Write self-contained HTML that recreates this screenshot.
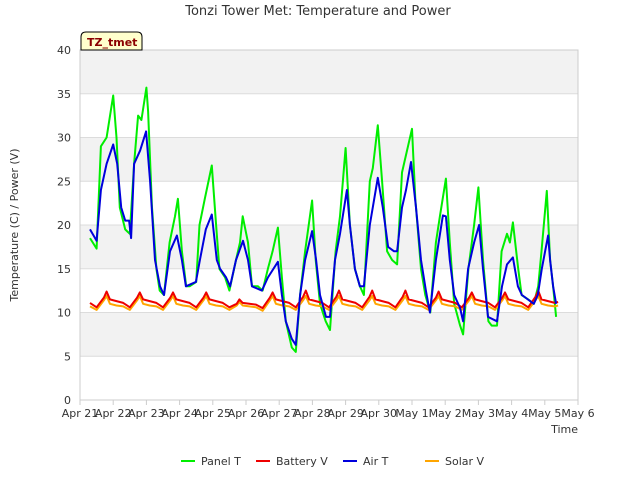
<!DOCTYPE html>
<html><head><meta charset="utf-8"><style>
body{margin:0;background:#fff;font-family:"Liberation Sans",sans-serif}
svg text{font-family:"DejaVu Sans","Liberation Sans",sans-serif}
</style></head><body>
<svg id="chart" width="640" height="480">
<g id="bands"></g><g id="grid"></g><g id="axes"></g><g id="series"></g>
<text x="318" y="15" text-anchor="middle" font-size="13" fill="#333">Tonzi Tower Met: Temperature and Power</text>
<text x="18" y="225" text-anchor="middle" font-size="11" fill="#333" transform="rotate(-90 18 225)">Temperature (C) / Power (V)</text>
<text x="578" y="433" text-anchor="end" font-size="11" fill="#333">Time</text>
<g>
<path d="M81,50 L81,37 Q81,32 86,32 L137,32 Q142,32 142,37 L142,50 Z" fill="#ffffcc" stroke="#000" stroke-width="1"/>
<text x="87" y="46" font-size="11" font-weight="bold" fill="#8b0000">TZ_tmet</text>
</g>
<g id="legend"></g>
</svg>
<script>
const NS="http://www.w3.org/2000/svg";
const xTicks=["Apr 21","Apr 22","Apr 23","Apr 24","Apr 25","Apr 26","Apr 27","Apr 28","Apr 29","Apr 30","May 1","May 2","May 3","May 4","May 5","May 6"];
const yTicks=[0,5,10,15,20,25,30,35,40];
const panelT=[[0.3,18.5],[0.5,17.3],[0.63,29],[0.8,30],[1.0,34.8],[1.1,30],[1.2,22],[1.36,19.5],[1.5,19],[1.63,27],[1.75,32.5],[1.85,32],[2.0,35.7],[2.05,33],[2.17,22],[2.3,15],[2.4,12.5],[2.53,12],[2.7,18],[2.86,21],[2.95,23],[3.07,17],[3.2,13],[3.3,13],[3.5,13.5],[3.6,20],[3.76,23],[3.97,26.8],[4.1,20],[4.2,15],[4.37,14],[4.5,12.5],[4.7,16],[4.82,18],[4.9,21],[5.06,18],[5.18,13],[5.36,13],[5.5,12.5],[5.66,15],[5.8,17],[5.96,19.7],[6.08,14],[6.2,9],[6.38,6],[6.5,5.5],[6.63,12],[6.78,17],[6.99,22.8],[7.1,16],[7.23,11],[7.4,9],[7.53,8],[7.7,17],[7.83,21],[8.0,28.8],[8.13,20],[8.28,15],[8.43,13],[8.55,12],[8.73,25],[8.82,26.5],[8.97,31.4],[9.1,25],[9.25,17],[9.4,16],[9.55,15.5],[9.7,26],[9.82,28],[10.0,31],[10.1,23],[10.27,15],[10.4,12],[10.55,10],[10.72,18],[10.84,21],[11.02,25.3],[11.14,18],[11.27,11],[11.45,8.5],[11.54,7.5],[11.7,15],[11.87,20],[12.0,24.3],[12.14,16],[12.3,9],[12.4,8.5],[12.56,8.5],[12.7,17],[12.86,19],[12.95,18],[13.04,20.3],[13.2,15],[13.3,12],[13.5,11.5],[13.67,11],[13.8,13],[13.9,17],[14.06,23.9],[14.16,16],[14.25,13],[14.34,9.5]];
const airT=[[0.3,19.5],[0.5,18.2],[0.63,24],[0.8,27],[1.0,29.2],[1.12,27],[1.24,22],[1.36,20.5],[1.48,20.5],[1.54,18.5],[1.63,27],[1.81,28.5],[1.99,30.7],[2.11,25],[2.26,16],[2.41,13],[2.53,12],[2.71,17],[2.92,18.8],[3.07,16],[3.19,13],[3.49,13.5],[3.61,16],[3.79,19.5],[3.97,21.2],[4.12,16],[4.22,15],[4.4,14],[4.52,13],[4.7,16],[4.91,18.2],[5.06,16],[5.18,13],[5.48,12.5],[5.66,14],[5.96,15.8],[6.08,12],[6.2,9],[6.38,7],[6.5,6.3],[6.63,12],[6.78,16],[6.99,19.3],[7.11,16],[7.23,12],[7.41,9.5],[7.53,9.5],[7.68,16],[7.83,19],[8.04,24],[8.13,20],[8.28,15],[8.43,13],[8.55,13],[8.73,20],[8.97,25.4],[9.12,22],[9.28,17.5],[9.46,17],[9.55,17],[9.7,22],[9.82,24],[9.97,27.2],[10.12,22],[10.27,16],[10.42,12.5],[10.54,10],[10.72,16],[10.93,21.1],[11.02,21],[11.14,16],[11.27,12],[11.45,10.5],[11.54,9],[11.69,15],[11.87,18],[12.02,20],[12.14,15],[12.29,9.5],[12.56,9],[12.71,13],[12.86,15.5],[13.04,16.3],[13.19,13],[13.31,12],[13.67,11],[13.79,12],[13.91,15],[14.1,18.8],[14.16,16],[14.25,13],[14.34,11]];
const batteryV=[[0.3,11.1],[0.5,10.6],[0.72,11.7],[0.8,12.4],[0.9,11.5],[1.1,11.3],[1.3,11.1],[1.5,10.6],[1.72,11.7],[1.8,12.3],[1.9,11.5],[2.1,11.3],[2.3,11.1],[2.5,10.6],[2.72,11.7],[2.8,12.3],[2.9,11.5],[3.1,11.3],[3.3,11.1],[3.5,10.6],[3.72,11.7],[3.8,12.3],[3.9,11.5],[4.1,11.3],[4.3,11.1],[4.5,10.6],[4.72,11.0],[4.8,11.5],[4.9,11.1],[5.1,11.0],[5.3,10.9],[5.5,10.5],[5.72,11.7],[5.8,12.3],[5.9,11.5],[6.1,11.3],[6.3,11.1],[6.5,10.6],[6.72,11.8],[6.8,12.5],[6.9,11.5],[7.1,11.3],[7.3,11.1],[7.5,10.6],[7.72,11.8],[7.8,12.5],[7.9,11.5],[8.1,11.3],[8.3,11.1],[8.5,10.6],[8.72,11.8],[8.8,12.5],[8.9,11.5],[9.1,11.3],[9.3,11.1],[9.5,10.6],[9.72,11.8],[9.8,12.5],[9.9,11.5],[10.1,11.3],[10.3,11.1],[10.5,10.6],[10.72,11.7],[10.8,12.4],[10.9,11.5],[11.1,11.3],[11.3,11.1],[11.5,10.6],[11.72,11.7],[11.8,12.3],[11.9,11.5],[12.1,11.3],[12.3,11.1],[12.5,10.6],[12.72,11.7],[12.8,12.3],[12.9,11.5],[13.1,11.3],[13.3,11.1],[13.5,10.6],[13.72,11.8],[13.8,12.5],[13.9,11.5],[14.1,11.3],[14.3,11.1],[14.4,11.2]];
const solarV=[[0.3,10.7],[0.5,10.3],[0.72,11.4],[0.8,11.9],[0.9,11.0],[1.1,10.8],[1.3,10.7],[1.5,10.3],[1.72,11.4],[1.8,11.9],[1.9,11.0],[2.1,10.8],[2.3,10.7],[2.5,10.3],[2.72,11.4],[2.8,11.9],[2.9,11.0],[3.1,10.8],[3.3,10.7],[3.5,10.3],[3.72,11.4],[3.8,11.9],[3.9,11.0],[4.1,10.8],[4.3,10.7],[4.5,10.3],[4.72,10.8],[4.8,11.2],[4.9,10.8],[5.1,10.7],[5.3,10.6],[5.5,10.2],[5.72,11.4],[5.8,11.9],[5.9,11.0],[6.1,10.8],[6.3,10.7],[6.5,10.3],[6.72,11.4],[6.8,11.9],[6.9,11.0],[7.1,10.8],[7.3,10.7],[7.5,10.3],[7.72,11.4],[7.8,11.9],[7.9,11.0],[8.1,10.8],[8.3,10.7],[8.5,10.3],[8.72,11.4],[8.8,11.9],[8.9,11.0],[9.1,10.8],[9.3,10.7],[9.5,10.3],[9.72,11.4],[9.8,11.9],[9.9,11.0],[10.1,10.8],[10.3,10.7],[10.5,10.3],[10.72,11.4],[10.8,11.9],[10.9,11.0],[11.1,10.8],[11.3,10.7],[11.5,10.3],[11.72,11.4],[11.8,11.9],[11.9,11.0],[12.1,10.8],[12.3,10.7],[12.5,10.3],[12.72,11.4],[12.8,11.9],[12.9,11.0],[13.1,10.8],[13.3,10.7],[13.5,10.3],[13.72,11.4],[13.8,11.9],[13.9,11.0],[14.1,10.8],[14.3,10.7],[14.4,10.8]];
const seriesNames=["Panel T","Battery V","Air T","Solar V"];
const seriesColors=["#00ee00","#ee0000","#0000dd","#ffa500"];
const X0=80,X1=578,Y0=400,Y1=50;
const xs=d=>X0+d*(X1-X0)/15;
const ys=v=>Y0-v*(Y0-Y1)/40;
function mk(tag,attrs,parent){const e=document.createElementNS(NS,tag);for(const k in attrs)e.setAttribute(k,attrs[k]);parent.appendChild(e);return e;}
const bands=document.getElementById('bands'),grid=document.getElementById('grid'),axes=document.getElementById('axes'),ser=document.getElementById('series'),leg=document.getElementById('legend');
for(let i=0;i<yTicks.length-1;i++){if(i%2===1){const r=mk('rect',{x:X0,y:ys(yTicks[i+1]),width:X1-X0,height:ys(yTicks[i])-ys(yTicks[i+1]),fill:'#f2f2f2'},bands);

}}
yTicks.forEach(v=>{const l=mk('line',{x1:X0,x2:X1,y1:ys(v),y2:ys(v),stroke:'#dcdcdc','stroke-width':1},grid);


const t=mk('text',{x:X0-9,y:ys(v)+4,'text-anchor':'end','font-size':11,fill:'#333'},axes);t.textContent=v;

});
mk('rect',{x:X0,y:Y1,width:X1-X0,height:Y0-Y1,fill:'none',stroke:'#ccc'},axes);
xTicks.forEach((s,i)=>{const x=xs(i);mk('line',{x1:x,x2:x,y1:Y0,y2:Y0+5,stroke:'#ccc'},axes);
const t=mk('text',{x:x,y:Y0+17,'text-anchor':'middle','font-size':11,fill:'#333'},axes);t.textContent=s;

});
[panelT,batteryV,airT,solarV].map((data,i)=>[data,i]).sort((a,b)=>[0,3,1,2].indexOf(a[1])-[0,3,1,2].indexOf(b[1])).forEach(([data,i])=>{
const p=mk('polyline',{points:data.map(d=>xs(d[0]).toFixed(1)+','+ys(d[1]).toFixed(1)).join(' '),fill:'none',stroke:seriesColors[i],'stroke-width':2,'stroke-linejoin':'round'},ser);

});
const legX=[181,256,343,425];
seriesNames.forEach((n,i)=>{const g=mk('g',{},leg);


mk('line',{x1:legX[i],x2:legX[i]+14,y1:461,y2:461,stroke:seriesColors[i],'stroke-width':2},g);
const t=mk('text',{x:legX[i]+20,y:465,'font-size':11,fill:'#333'},g);t.textContent=n;});
</script>
</body></html>
